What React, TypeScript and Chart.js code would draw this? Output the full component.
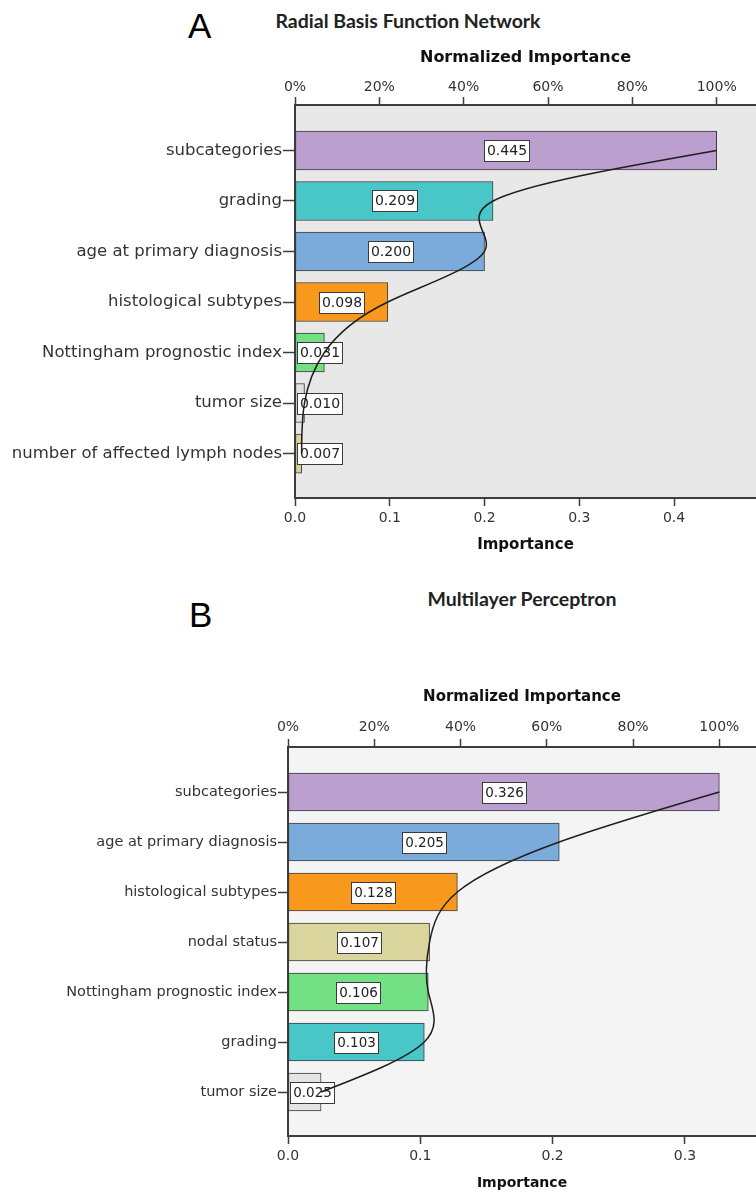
import React, { useEffect, useRef } from 'react';
import { Chart, registerables } from 'chart.js';

Chart.register(...registerables);

// ---------- Data: A (Radial Basis Function Network) ----------
const categoriesA = [
  'subcategories',
  'grading',
  'age at primary diagnosis',
  'histological subtypes',
  'Nottingham prognostic index',
  'tumor size',
  'number of affected lymph nodes',
];
const importanceA = [0.445, 0.209, 0.2, 0.098, 0.031, 0.01, 0.007];
const colorsA = ['#bb9fcf', '#48c6c8', '#7babdb', '#f8991d', '#72e083', '#e0e0e0', '#d9d198'];

// ---------- Data: B (Multilayer Perceptron) ----------
const categoriesB = [
  'subcategories',
  'age at primary diagnosis',
  'histological subtypes',
  'nodal status',
  'Nottingham prognostic index',
  'grading',
  'tumor size',
];
const importanceB = [0.326, 0.205, 0.128, 0.107, 0.106, 0.103, 0.025];
const colorsB = ['#bb9fcf', '#7babdb', '#f8991d', '#d9d59c', '#72e083', '#48c6c8', '#e4e4e4'];

// ---------- Tick labels ----------
const percentTicks = [0, 20, 40, 60, 80, 100];
const importanceTicksA = [0, 0.1, 0.2, 0.3, 0.4];
const importanceTicksB = [0, 0.1, 0.2, 0.3];

const FONT = "'DejaVu Sans', sans-serif";

type Spec = {
  categories: string[];
  values: number[];
  colors: string[];
  impTicks: number[];
  xMax: number;
  canvasTop: number;
  canvasH: number;
  leftW: number;
  topH: number;
  bottomH: number;
  plotBg: string;
  catFont: number;
  topTitleFont: number;
  topTitlePad: number;
  bottomTitleFont: number;
  bottomTitlePad: number;
  topTickPad: number;
  yTickLen: number;
  barThickness: number;
  labelFont: number;
};

const bgPlugin = {
  id: 'plotBg',
  beforeDraw(chart: any, _args: any, opts: any) {
    const { ctx, chartArea } = chart;
    ctx.save();
    ctx.fillStyle = opts.color;
    ctx.fillRect(chartArea.left, chartArea.top, chartArea.right - chartArea.left, chartArea.bottom - chartArea.top);
    ctx.restore();
  },
};

// Natural cubic spline (x as a function of y) control points for the importance curve,
// computed from the points that Chart.js has placed with its own scales.
const naturalSplinePlugin = {
  id: 'naturalSpline',
  beforeDatasetDraw(chart: any, args: any) {
    const meta = args.meta;
    if (meta.type !== 'line') return;
    const pts = meta.data as any[];
    const n = pts.length - 1;
    if (n < 1) return;
    const h: number[] = [];
    for (let i = 0; i < n; i++) h.push(pts[i + 1].y - pts[i].y);
    const M = new Array(n + 1).fill(0);
    if (n > 1) {
      const a: number[] = [], b: number[] = [], c: number[] = [], d: number[] = [];
      for (let i = 1; i < n; i++) {
        a.push(h[i - 1]);
        b.push(2 * (h[i - 1] + h[i]));
        c.push(h[i]);
        d.push(6 * ((pts[i + 1].x - pts[i].x) / h[i] - (pts[i].x - pts[i - 1].x) / h[i - 1]));
      }
      const m = b.length;
      const cp: number[] = new Array(m).fill(0);
      const dp: number[] = new Array(m).fill(0);
      cp[0] = c[0] / b[0];
      dp[0] = d[0] / b[0];
      for (let i = 1; i < m; i++) {
        const den = b[i] - a[i] * cp[i - 1];
        cp[i] = c[i] / den;
        dp[i] = (d[i] - a[i] * dp[i - 1]) / den;
      }
      const sol: number[] = new Array(m).fill(0);
      sol[m - 1] = dp[m - 1];
      for (let i = m - 2; i >= 0; i--) sol[i] = dp[i] - cp[i] * sol[i + 1];
      for (let i = 1; i < n; i++) M[i] = sol[i - 1];
    }
    const slope: number[] = [];
    for (let i = 0; i < n; i++) {
      slope.push((pts[i + 1].x - pts[i].x) / h[i] - (h[i] * (2 * M[i] + M[i + 1])) / 6);
    }
    slope.push((pts[n].x - pts[n - 1].x) / h[n - 1] + (h[n - 1] * (M[n - 1] + 2 * M[n])) / 6);
    for (let i = 0; i <= n; i++) {
      const p = pts[i];
      const hPrev = i > 0 ? h[i - 1] : 0;
      const hNext = i < n ? h[i] : 0;
      p.cp1x = p.x - (slope[i] * hPrev) / 3;
      p.cp1y = p.y - hPrev / 3;
      p.cp2x = p.x + (slope[i] * hNext) / 3;
      p.cp2y = p.y + hNext / 3;
    }
    meta.dataset._pointsUpdated = true;
    meta.dataset._path = undefined;
  },
};

const valueLabelPlugin = {
  id: 'valueLabels',
  afterDatasetDraw(chart: any, args: any, opts: any) {
    if (args.meta.type !== 'bar') return;
    const { ctx, chartArea } = chart;
    const ds = chart.data.datasets[args.index];
    ctx.save();
    ctx.font = `${opts.size}px ${FONT}`;
    args.meta.data.forEach((el: any, i: number) => {
      const v = ds.data[i].x as number;
      const text = v.toFixed(3);
      const tw = ctx.measureText(text).width;
      const w = Math.round(tw + 5);
      const h = 21;
      const p = el.getProps(['x', 'y', 'base'], true);
      let cx = (p.x + p.base) / 2;
      cx = Math.max(cx, chartArea.left + w / 2 + 1.5);
      const bx = Math.round(cx - w / 2);
      const by = Math.round(p.y - h / 2);
      ctx.fillStyle = '#ffffff';
      ctx.fillRect(bx, by, w, h);
      ctx.strokeStyle = '#3a3a3a';
      ctx.lineWidth = 1;
      ctx.strokeRect(bx + 0.5, by + 0.5, w, h);
      ctx.fillStyle = '#222';
      ctx.textAlign = 'center';
      ctx.textBaseline = 'middle';
      ctx.fillText(text, bx + w / 2 + 0.5, by + h / 2 + 1);
    });
    ctx.restore();
  },
};

function buildConfig(s: Spec, plotBg: string): any {
  const barData = s.values.map((v, i) => ({ x: v, y: i }));
  const pctMax = (s.xMax / s.values[0]) * 100;
  const axisColor = '#3c3c3c';
  return {
    type: 'bar',
    data: {
      datasets: [
        {
          type: 'bar',
          data: barData,
          backgroundColor: s.colors,
          borderColor: '#3c3c3c',
          borderWidth: 1,
          borderSkipped: false,
          barThickness: s.barThickness,
          xAxisID: 'x',
          yAxisID: 'y',
          order: 1,
        },
        {
          type: 'line',
          indexAxis: 'y',
          data: barData,
          borderColor: '#1e1e1e',
          borderWidth: 1.5,
          pointRadius: 0,
          pointHoverRadius: 0,
          tension: 0.4,
          capBezierPoints: false,
          fill: false,
          xAxisID: 'x',
          yAxisID: 'y',
          order: 0,
        },
      ],
    },
    options: {
      indexAxis: 'y',
      responsive: false,
      animation: false,
      events: [],
      layout: { padding: 0 },
      plugins: {
        legend: { display: false },
        tooltip: { enabled: false },
        plotBg: { color: plotBg },
        valueLabels: { size: s.labelFont },
      },
      scales: {
        y: {
          type: 'linear',
          reverse: true,
          offset: false,
          min: -0.9,
          max: 6.88,
          afterBuildTicks: (sc: any) => {
            sc.ticks = s.categories.map((_, i) => ({ value: i }));
          },
          afterFit: (sc: any) => {
            sc.width = s.leftW;
          },
          ticks: {
            autoSkip: false,
            padding: 1,
            color: '#333',
            font: { family: FONT, size: s.catFont },
            callback: (v: any) => s.categories[v] ?? '',
          },
          grid: {
            offset: false,
            drawOnChartArea: false,
            drawTicks: true,
            tickLength: s.yTickLen,
            tickColor: axisColor,
            tickWidth: 1.5,
            color: axisColor,
          },
          border: { color: axisColor, width: 2 },
        },
        x: {
          type: 'linear',
          position: 'bottom',
          offset: false,
          min: 0,
          max: s.xMax,
          afterBuildTicks: (sc: any) => {
            sc.ticks = s.impTicks.map((v) => ({ value: v }));
          },
          afterFit: (sc: any) => {
            sc.height = s.bottomH;
          },
          ticks: {
            autoSkip: false,
            maxRotation: 0,
            padding: 3.6,
            color: '#333',
            font: { family: FONT, size: 14 },
            callback: (v: any) => Number(v).toFixed(1),
          },
          grid: {
            offset: false,
            drawOnChartArea: false,
            tickLength: 8,
            tickColor: axisColor,
            tickWidth: 1.5,
            color: axisColor,
          },
          border: { color: axisColor, width: 2 },
          title: {
            display: true,
            text: 'Importance',
            color: '#111',
            font: { family: FONT, size: s.bottomTitleFont, weight: 'bold' },
            padding: { top: 0, bottom: s.bottomTitlePad },
          },
        },
        x2: {
          type: 'linear',
          position: 'top',
          offset: false,
          min: 0,
          max: pctMax,
          afterBuildTicks: (sc: any) => {
            sc.ticks = percentTicks.map((v) => ({ value: v }));
          },
          afterFit: (sc: any) => {
            sc.height = s.topH;
          },
          ticks: {
            autoSkip: false,
            maxRotation: 0,
            padding: s.topTickPad,
            color: '#333',
            font: { family: FONT, size: 14 },
            callback: (v: any) => `${v}%`,
          },
          grid: {
            offset: false,
            drawOnChartArea: false,
            tickLength: 8,
            tickColor: axisColor,
            tickWidth: 1.5,
            color: axisColor,
          },
          border: { color: axisColor, width: 2 },
          title: {
            display: true,
            text: 'Normalized Importance',
            color: '#111',
            font: { family: FONT, size: s.topTitleFont, weight: 'bold' },
            padding: { top: s.topTitlePad, bottom: 0 },
          },
        },
      },
    },
    plugins: [bgPlugin, naturalSplinePlugin, valueLabelPlugin],
  };
}

const specA: Spec = {
  categories: categoriesA,
  values: importanceA,
  colors: colorsA,
  impTicks: importanceTicksA,
  xMax: 0.4865,
  canvasTop: 40,
  canvasH: 525,
  leftW: 295,
  topH: 65,
  bottomH: 67,
  plotBg: '#e8e8e8',
  catFont: 16.5,
  topTitleFont: 16,
  topTitlePad: 8.4,
  bottomTitleFont: 15,
  bottomTitlePad: 11,
  topTickPad: 1.1,
  yTickLen: 12,
  barThickness: 39,
  labelFont: 14,
};

const specB: Spec = {
  categories: categoriesB,
  values: importanceB,
  colors: colorsB,
  impTicks: importanceTicksB,
  xMax: 0.3537,
  canvasTop: 670,
  canvasH: 522,
  leftW: 288,
  topH: 77,
  bottomH: 56,
  plotBg: '#f4f4f4',
  catFont: 14.5,
  topTitleFont: 15,
  topTitlePad: 18,
  bottomTitleFont: 14,
  bottomTitlePad: 0,
  topTickPad: 3.6,
  yTickLen: 10,
  barThickness: 38,
  labelFont: 13.5,
};

function ImportanceChart({ spec }: { spec: Spec }) {
  const ref = useRef<HTMLCanvasElement>(null);
  useEffect(() => {
    if (!ref.current) return;
    const chart = new Chart(ref.current, buildConfig(spec, spec.plotBg));
    return () => chart.destroy();
  }, [spec]);
  return (
    <canvas
      ref={ref}
      width={756}
      height={spec.canvasH}
      style={{ position: 'absolute', left: 0, top: spec.canvasTop, width: 756, height: spec.canvasH, display: 'block' }}
    />
  );
}

const letterStyle: React.CSSProperties = {
  position: 'absolute',
  fontFamily: "'Liberation Sans', Arial, sans-serif",
  fontSize: 35,
  lineHeight: '35px',
  color: '#000',
  whiteSpace: 'nowrap',
};

const titleStyle: React.CSSProperties = {
  position: 'absolute',
  width: 400,
  textAlign: 'center',
  fontFamily: "Lato, 'Open Sans', sans-serif",
  fontWeight: 700,
  fontSize: 19.5,
  lineHeight: '22px',
  color: '#222',
  whiteSpace: 'nowrap',
};

export default function App() {
  return (
    <div style={{ position: 'absolute', left: 0, top: 0, width: 756, height: 1192, background: '#fff', overflow: 'hidden' }}>
      <div style={{ ...letterStyle, left: 188, top: 8 }}>A</div>
      <div style={{ ...titleStyle, left: 408 - 200, top: 10 }}>Radial Basis Function Network</div>
      <ImportanceChart spec={specA} />
      <div style={{ ...letterStyle, left: 189, top: 597 }}>B</div>
      <div style={{ ...titleStyle, left: 522 - 200, top: 588 }}>Multilayer Perceptron</div>
      <ImportanceChart spec={specB} />
    </div>
  );
}
